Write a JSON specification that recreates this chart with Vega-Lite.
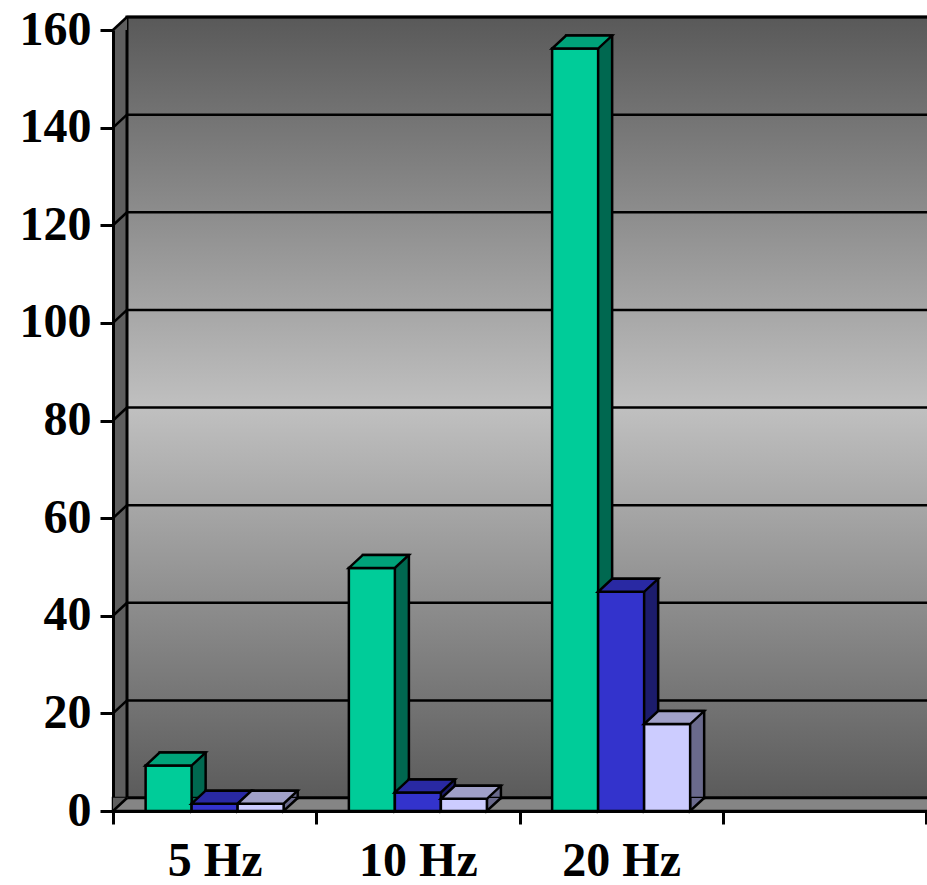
{
  "$schema": "https://vega.github.io/schema/vega-lite/v6.json",
  "width": 813,
  "height": 781,
  "autosize": {"type": "none"},
  "padding": {"left": 113, "top": 30, "right": 1, "bottom": 74},
  "background": "white",
  "config": {
    "view": {"stroke": null, "fill": "#5e5e5e"},
    "font": "Liberation Serif",
    "axis": {
      "domainColor": "black", "domainWidth": 3,
      "tickColor": "black", "tickWidth": 3, "tickSize": 13,
      "labelFont": "Liberation Serif", "labelFontSize": 48, "labelFontWeight": "bold",
      "labelColor": "black", "grid": false
    },
    "axisX": {"tickBand": "extent", "labelPadding": 13, "labelAngle": 0},
    "axisY": {"labelPadding": 9}
  },
  "datasets": {
    "bars": [
      {"freq": "5 Hz", "series": "Series 1", "value": 9.3},
      {"freq": "5 Hz", "series": "Series 2", "value": 1.5},
      {"freq": "5 Hz", "series": "Series 3", "value": 1.5},
      {"freq": "10 Hz", "series": "Series 1", "value": 49.8},
      {"freq": "10 Hz", "series": "Series 2", "value": 3.8},
      {"freq": "10 Hz", "series": "Series 3", "value": 2.5},
      {"freq": "20 Hz", "series": "Series 1", "value": 156.2},
      {"freq": "20 Hz", "series": "Series 2", "value": 44.9},
      {"freq": "20 Hz", "series": "Series 3", "value": 17.8}
    ],
    "grid": [
      {"level": 0}, {"level": 20}, {"level": 40}, {"level": 60}, {"level": 80},
      {"level": 100}, {"level": 120}, {"level": 140}, {"level": 160}
    ],
    "frame": [{}]
  },
  "resolve": {"scale": {"fill": "independent", "xOffset": "independent"}},
  "layer": [
    {
      "data": {"name": "frame"},
      "mark": {
        "type": "rect",
        "fill": {
          "gradient": "linear", "x1": 0, "y1": 0, "x2": 0, "y2": 1,
          "stops": [
            {"offset": 0, "color": "#595959"},
            {"offset": 0.5, "color": "#c0c0c0"},
            {"offset": 1, "color": "#5b5b5b"}
          ]
        },
        "stroke": "black", "strokeWidth": 3,
        "xOffset": 14, "x2Offset": 14, "yOffset": -13, "y2Offset": -13
      },
      "encoding": {
        "x": {"datum": "5 Hz", "type": "nominal", "bandPosition": 0, "scale": {"domain": ["5 Hz", "10 Hz", "20 Hz", " "], "paddingInner": 0, "paddingOuter": 0}, "axis": {"title": null}},
        "x2": {"datum": " ", "bandPosition": 1},
        "y": {"datum": 0, "type": "quantitative", "scale": {"domain": [0, 160], "nice": false}, "axis": {"title": null, "values": [0, 20, 40, 60, 80, 100, 120, 140, 160]}},
        "y2": {"datum": 160}
      }
    },
    {
      "data": {"name": "grid"},
      "mark": {"type": "rule", "color": "black", "strokeWidth": 2.5, "xOffset": 14, "x2Offset": 14, "yOffset": -13, "y2Offset": -13},
      "encoding": {
        "x": {"datum": "5 Hz", "type": "nominal", "bandPosition": 0, "axis": {"title": null}},
        "x2": {"datum": " ", "bandPosition": 1},
        "y": {"field": "level", "type": "quantitative", "axis": {"title": null, "values": [0, 20, 40, 60, 80, 100, 120, 140, 160]}},
        "y2": {"field": "level"}
      }
    },
    {
      "data": {"name": "frame"},
      "mark": {
        "type": "rect", "fill": "#858585", "stroke": "black", "strokeWidth": 2.5,
        "xOffset": 0, "x2Offset": 14, "yOffset": 0, "y2Offset": -13
      },
      "encoding": {
        "x": {"datum": "5 Hz", "type": "nominal", "bandPosition": 0, "axis": {"title": null}},
        "x2": {"datum": " ", "bandPosition": 1},
        "y": {"datum": 0, "type": "quantitative", "axis": {"title": null, "values": [0, 20, 40, 60, 80, 100, 120, 140, 160]}},
        "y2": {"datum": 0}
      }
    },
    {
      "data": {"name": "frame"},
      "mark": {"type": "point", "shape": "M0,0L1,-0.9286L1,0Z", "size": 784, "filled": true, "opacity": 1, "fill": "#5e5e5e", "strokeWidth": 0},
      "encoding": {
        "x": {"datum": "5 Hz", "type": "nominal", "bandPosition": 0, "axis": {"title": null}},
        "y": {"datum": 160, "type": "quantitative", "axis": {"title": null, "values": [0, 20, 40, 60, 80, 100, 120, 140, 160]}}
      }
    },
    {
      "data": {"name": "frame"},
      "mark": {"type": "point", "shape": "M0,0.05L1.05,-0.95L0,-0.95Z", "size": 784, "filled": true, "opacity": 1, "fill": "#5e5e5e", "strokeWidth": 0},
      "encoding": {
        "x": {"datum": "5 Hz", "type": "nominal", "bandPosition": 0, "axis": {"title": null}},
        "y": {"datum": 0, "type": "quantitative", "axis": {"title": null, "values": [0, 20, 40, 60, 80, 100, 120, 140, 160]}}
      }
    },
    {
      "data": {"name": "grid"},
      "mark": {"type": "point", "shape": "M0,0L1,-0.9286", "size": 784, "filled": false, "opacity": 1, "stroke": "black", "strokeWidth": 2.5},
      "encoding": {
        "x": {"datum": "5 Hz", "type": "nominal", "bandPosition": 0, "axis": {"title": null}},
        "y": {"field": "level", "type": "quantitative", "axis": {"title": null, "values": [0, 20, 40, 60, 80, 100, 120, 140, 160]}}
      }
    },
    {
      "data": {"name": "bars"},
      "mark": {"type": "bar", "stroke": "black", "strokeWidth": 2.5, "yOffset": -13, "y2Offset": -13},
      "encoding": {
        "x": {"field": "freq", "type": "nominal", "sort": null, "axis": {"title": null}},
        "xOffset": {"field": "series", "type": "nominal", "scale": {"type": "band", "domain": ["Series 1", "Series 2", "Series 3"], "paddingInner": 0, "paddingOuter": 0.709, "align": 0.715}},
        "y": {"field": "value", "type": "quantitative", "axis": {"title": null, "values": [0, 20, 40, 60, 80, 100, 120, 140, 160]}},
        "fill": {"field": "series", "type": "nominal", "scale": {"domain": ["Series 1", "Series 2", "Series 3"], "range": ["#006850", "#1c1c6c", "#6a6a8c"]}, "legend": null}
      }
    },
    {
      "data": {"name": "bars"},
      "mark": {"type": "point", "shape": "M1,-0.5652L1,0L1.6087,-0.5652", "size": 2116, "filled": true, "opacity": 1, "stroke": "black", "strokeWidth": 2.5},
      "encoding": {
        "x": {"field": "freq", "type": "nominal", "sort": null, "axis": {"title": null}},
        "xOffset": {"field": "series", "type": "nominal", "scale": {"type": "band", "domain": ["Series 1", "Series 2", "Series 3"], "paddingInner": 0, "paddingOuter": 0.709}},
        "y": {"datum": 0, "type": "quantitative", "axis": {"title": null, "values": [0, 20, 40, 60, 80, 100, 120, 140, 160]}},
        "fill": {"field": "series", "type": "nominal", "scale": {"domain": ["Series 1", "Series 2", "Series 3"], "range": ["#006850", "#1c1c6c", "#6a6a8c"]}, "legend": null}
      }
    },
    {
      "data": {"name": "bars"},
      "mark": {"type": "bar", "stroke": "black", "strokeWidth": 2.5},
      "encoding": {
        "x": {"field": "freq", "type": "nominal", "sort": null, "axis": {"title": null}},
        "xOffset": {"field": "series", "type": "nominal", "scale": {"type": "band", "domain": ["Series 1", "Series 2", "Series 3"], "paddingInner": 0, "paddingOuter": 0.709}},
        "y": {"field": "value", "type": "quantitative", "axis": {"title": null, "values": [0, 20, 40, 60, 80, 100, 120, 140, 160]}},
        "fill": {"field": "series", "type": "nominal", "scale": {"domain": ["Series 1", "Series 2", "Series 3"], "range": ["#00cc99", "#3333cc", "#ccccff"]}, "legend": null}
      }
    },
    {
      "data": {"name": "bars"},
      "mark": {"type": "point", "shape": "M-1,0L1,0L1.6087,-0.5652L-0.3913,-0.5652Z", "size": 2116, "filled": true, "opacity": 1, "stroke": "black", "strokeWidth": 2.5},
      "encoding": {
        "x": {"field": "freq", "type": "nominal", "sort": null, "axis": {"title": null}},
        "xOffset": {"field": "series", "type": "nominal", "scale": {"type": "band", "domain": ["Series 1", "Series 2", "Series 3"], "paddingInner": 0, "paddingOuter": 0.709}},
        "y": {"field": "value", "type": "quantitative", "axis": {"title": null, "values": [0, 20, 40, 60, 80, 100, 120, 140, 160]}},
        "fill": {"field": "series", "type": "nominal", "scale": {"domain": ["Series 1", "Series 2", "Series 3"], "range": ["#00a37a", "#2929a3", "#a0a0c8"]}, "legend": null}
      }
    }
  ]
}
